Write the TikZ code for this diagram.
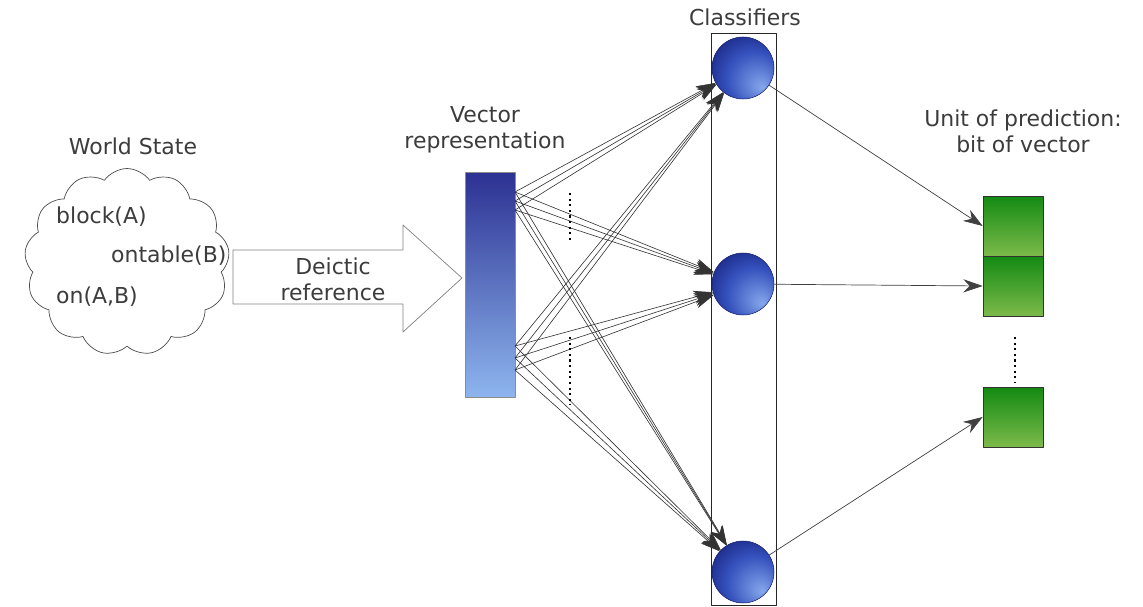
\documentclass[tikz,border=0pt]{standalone}
\usepackage{fontspec}
\setmainfont{DejaVu Sans}
\usetikzlibrary{arrows.meta,shapes.symbols,positioning}
\definecolor{txtgray}{HTML}{3C3C3C}
\definecolor{vectop}{HTML}{2C3192}
\definecolor{vecbot}{HTML}{8DB5EE}
\definecolor{bitop}{HTML}{138A13}
\definecolor{bitbot}{HTML}{7CBA4A}
\definecolor{balldark}{HTML}{1A2685}
\definecolor{ballmid}{HTML}{3552BD}
\definecolor{ballhi}{HTML}{86A8EC}
\pgfdeclareradialshading{sphereshade}{\pgfpoint{16bp}{-16bp}}{color(0bp)=(ballhi); color(22bp)=(ballmid); color(36bp)=(balldark); color(50bp)=(balldark)}
\begin{document}
\begin{tikzpicture}[x=0.02cm,y=-0.02cm,line join=round,>={Stealth[length=11pt,width=7.5pt]},
	lbl/.style={text=txtgray,font=\fontsize{12.5}{15}\selectfont,align=center},
	bit/.style={draw=black!80,minimum width=1.2cm,minimum height=1.2cm,inner sep=0pt,top color=bitop,bottom color=bitbot},
	ball/.style={circle,draw=balldark!80!black,line width=0.3pt,minimum size=1.24cm,inner sep=0pt,shading=sphereshade},
	fan/.style={->,draw=black!80,line width=0.35pt}]
	\useasboundingbox (0,0) rectangle (1143,607);
	% world state
	\node[lbl] (ws) at (133,146) {World State};
	\node[cloud,draw=black!70,cloud puffs=13,cloud puff arc=110,cloud ignores aspect,minimum width=4.1cm,minimum height=3.74cm,inner sep=0pt] (cloud) at (127,262) {};
	\node[lbl,anchor=west] (f1) at (50,217) {block(A)};
	\node[lbl,anchor=west] (f2) at (105,256) {ontable(B)};
	\node[lbl,anchor=west] (f3) at (50,297) {on(A,B)};
	% deictic arrow
	\node[lbl] (deic) at (333,279) {Deictic\\reference};
	\draw[draw=black!50] (233,250)--(403,250)--(403,225)--(462,278)--(403,332)--(403,304)--(233,304)--cycle;
	% vector
	\node[lbl] (vlab) at (485,130) {Vector\\representation};
	\node[draw=black!45,minimum width=1cm,minimum height=4.5cm,inner sep=0pt,top color=vectop,bottom color=vecbot] (vec) at (490,284.5) {};
	% classifiers
	\node[lbl] (clab) at (745,17) {Classifiers};
	\node[draw=black!85,minimum width=1.3cm,minimum height=11.44cm,inner sep=0pt] (cls) at (743.5,319) {};
	\node[ball] (c1) at (743,68) {};
	\node[ball] (c2) at (743,284) {};
	\node[ball] (c3) at (743,572) {};
	\coordinate (s1) at (515,192);
	\coordinate (s2) at (515,201);
	\coordinate (s3) at (515,210);
	\coordinate (s4) at (515,346);
	\coordinate (s5) at (515,358);
	\coordinate (s6) at (515,370);
	\foreach \s in {s1,s2,s3,s4,s5,s6}
		\foreach \c in {c1,c2,c3}
			\draw[fan] (\s) -- (\c);
	\draw[dotted,very thick] (570,193) -- (570,240);
	\draw[dotted,very thick] (570,337) -- (570,405);
	% prediction bits
	\node[lbl] (ulab) at (1023,131) {Unit of prediction:\\bit of vector};
	\node[bit] (g1) at (1013,226) {};
	\node[bit] (g2) at (1013,286) {};
	\node[bit] (g3) at (1013,417) {};
	\draw[dotted,very thick] (1015,337) -- (1015,382);
	\draw[->,draw=black!75,line width=0.4pt] (c1) -- (g1.west);
	\draw[->,draw=black!75,line width=0.4pt] (c2) -- (g2.west);
	\draw[->,draw=black!75,line width=0.4pt] (c3) -- (g3.west);
\end{tikzpicture}
\end{document}
